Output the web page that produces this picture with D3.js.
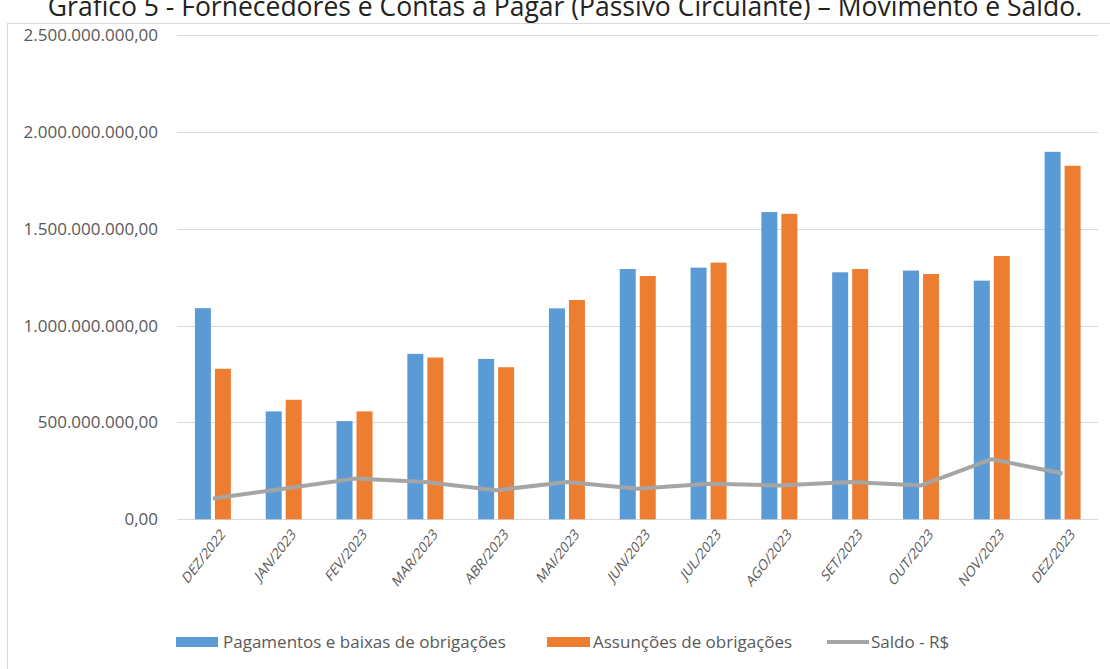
<!DOCTYPE html>
<html>
<head>
<meta charset="utf-8">
<script src="https://cdn.jsdelivr.net/npm/d3@7"></script>
<style>
  body { margin: 0; background: #fff; }
  text { font-family: "Open Sans", "Noto Sans", sans-serif; }
</style>
</head>
<body>
<div id="chart"></div>
<script>
const months = ["DEZ/2022", "JAN/2023", "FEV/2023", "MAR/2023", "ABR/2023", "MAI/2023", "JUN/2023",
  "JUL/2023", "AGO/2023", "SET/2023", "OUT/2023", "NOV/2023", "DEZ/2023"];
const pagamentos = [1090e6, 557e6, 507e6, 854e6, 828e6, 1089e6, 1292e6, 1299e6, 1586e6, 1275e6, 1284e6, 1232e6, 1897e6];
const assuncoes = [777e6, 617e6, 557e6, 835e6, 785e6, 1132e6, 1256e6, 1325e6, 1577e6, 1292e6, 1266e6, 1359e6, 1825e6];
const saldo = [107e6, 158e6, 210e6, 192e6, 150e6, 192e6, 158e6, 184e6, 175e6, 192e6, 175e6, 310e6, 236e6];
const yTicks = [0, 500e6, 1000e6, 1500e6, 2000e6, 2500e6];

const W = 1110, H = 669;
const plot = { left: 177.5, right: 1098, top: 35, bottom: 519.3 };

const svg = d3.select("#chart").append("svg")
  .attr("width", W)
  .attr("height", H);

// title (its top is cut off in the original too)
svg.append("text")
  .attr("x", 565)
  .attr("y", 16)
  .attr("text-anchor", "middle")
  .attr("font-size", "26.5px")
  .attr("fill", "#222")
  .text("Gráfico 5 - Fornecedores e Contas a Pagar (Passivo Circulante) – Movimento e Saldo.");

// chart frame
svg.append("rect")
  .attr("x", 7.5)
  .attr("y", 23.5)
  .attr("width", 1120)
  .attr("height", 700)
  .attr("fill", "none")
  .attr("stroke", "#d9d9d9");

const x = d3.scaleBand().domain(months).range([plot.left, plot.right]);
const y = d3.scaleLinear().domain([0, 2500e6]).range([plot.bottom, plot.top]);

const fmt = v => d3.format(",.2f")(v).replace(/,/g, "#").replace(".", ",").replace(/#/g, ".");

// gridlines + y labels
svg.append("g")
  .selectAll("line")
  .data(yTicks)
  .join("line")
  .attr("x1", plot.left)
  .attr("x2", plot.right)
  .attr("y1", d => Math.round(y(d)) + 0.5)
  .attr("y2", d => Math.round(y(d)) + 0.5)
  .attr("stroke", "#d9d9d9")
  .attr("stroke-width", 1);

svg.append("g")
  .selectAll("text")
  .data(yTicks)
  .join("text")
  .attr("x", 158)
  .attr("y", d => y(d))
  .attr("dy", "0.35em")
  .attr("text-anchor", "end")
  .attr("font-size", "17px")
  .attr("fill", "#595959")
  .text(fmt);

// bars
const barW = 16, gap = 4;
const cx = m => x(m) + x.bandwidth() / 2;

svg.append("g")
  .selectAll("rect")
  .data(months)
  .join("rect")
  .attr("x", (m) => cx(m) - gap / 2 - barW)
  .attr("y", (m, i) => y(pagamentos[i]))
  .attr("width", barW)
  .attr("height", (m, i) => y(0) - y(pagamentos[i]))
  .attr("fill", "#5b9bd5");

svg.append("g")
  .selectAll("rect")
  .data(months)
  .join("rect")
  .attr("x", (m) => cx(m) + gap / 2)
  .attr("y", (m, i) => y(assuncoes[i]))
  .attr("width", barW)
  .attr("height", (m, i) => y(0) - y(assuncoes[i]))
  .attr("fill", "#ed7d31");

// saldo line
const line = d3.line()
  .x((d, i) => cx(months[i]))
  .y(d => y(d));

svg.append("path")
  .datum(saldo)
  .attr("d", line)
  .attr("fill", "none")
  .attr("stroke", "#a5a5a5")
  .attr("stroke-width", 4)
  .attr("stroke-linejoin", "round");

// x labels, rotated (the original is squeezed sideways, so they look steeper)
svg.append("g")
  .selectAll("text")
  .data(months)
  .join("text")
  .attr("transform", m => `translate(${cx(m) + 10},${plot.bottom + 12}) scale(0.78,1) rotate(-45)`)
  .attr("text-anchor", "end")
  .attr("dy", "0.35em")
  .attr("font-size", "15.5px")
  .attr("fill", "#595959")
  .text(m => m);

// legend
const legend = svg.append("g").attr("font-size", "17px").attr("fill", "#595959");
legend.append("rect").attr("x", 176).attr("y", 637).attr("width", 42).attr("height", 10).attr("fill", "#5b9bd5");
legend.append("text").attr("x", 223).attr("y", 642).attr("dy", "0.35em").text("Pagamentos e baixas de obrigações");
legend.append("rect").attr("x", 547).attr("y", 637).attr("width", 43).attr("height", 10).attr("fill", "#ed7d31");
legend.append("text").attr("x", 593).attr("y", 642).attr("dy", "0.35em").text("Assunções de obrigações");
legend.append("line").attr("x1", 827).attr("x2", 869).attr("y1", 642).attr("y2", 642)
  .attr("stroke", "#a5a5a5").attr("stroke-width", 4);
legend.append("text").attr("x", 871).attr("y", 642).attr("dy", "0.35em").text("Saldo - R$");
</script>
</body>
</html>
